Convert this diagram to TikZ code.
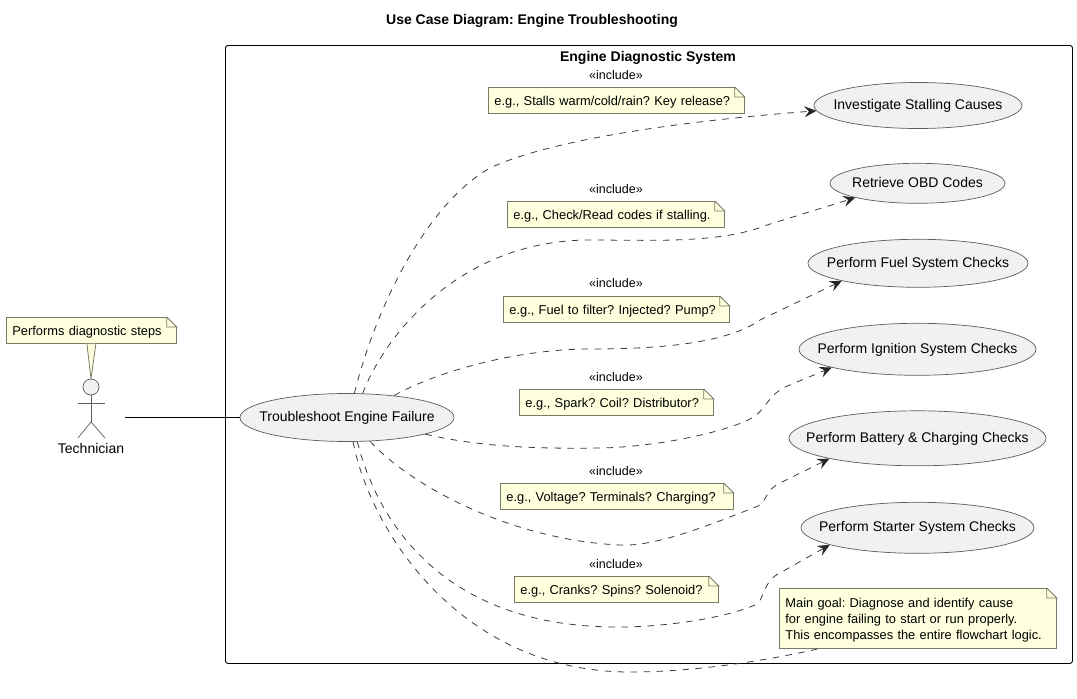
\documentclass[tikz,border=0pt]{standalone}
\usepackage{fontspec}
\setmainfont{Liberation Sans}
\usetikzlibrary{shapes.geometric,arrows.meta}
\frenchspacing
\definecolor{notefill}{HTML}{FEFFDD}
\definecolor{notegray}{HTML}{7A7A66}
\definecolor{casefill}{HTML}{F1F1F1}
\definecolor{linegray}{HTML}{3A3A3A}
\definecolor{casegray}{HTML}{5C5C5C}
\newcommand{\uctext}[1]{\raisebox{-4pt}[0pt][0pt]{\makebox[0pt]{#1}}}
\begin{document}
\begin{tikzpicture}[x=1pt, y=-1pt, font=\fontsize{14}{16}\selectfont,
  usecase/.style = {draw=casegray, line width=0.7pt, fill=casefill, ellipse, inner sep=0pt},
  notebox/.style = {draw=notegray, line width=0.8pt, fill=notefill, anchor=north west, align=left, inner xsep=6pt, inner ysep=0pt, minimum height=26pt, text depth=0pt, font=\fontsize{12.85}{16}\selectfont},
  incl/.style = {font=\fontsize{12.5}{14}\selectfont},
  dep/.style = {draw=linegray, line width=0.8pt, dash pattern=on 6.5pt off 6.5pt},
  deparrow/.style = {dep, -{Stealth[length=12pt, width=11pt, inset=4.5pt, color=black!85]}},
  limb/.style = {draw=casegray, line width=0.7pt}]
\useasboundingbox (0,0) rectangle (1077,699);
\node[font=\fontsize{14}{16}\selectfont\bfseries] (title) at (532,21) {Use Case Diagram: Engine Troubleshooting};
\node[draw, line width=0.9pt, rounded corners=2.5pt, anchor=north west, minimum width=847pt, minimum height=618pt] (sys) at (225,45) {};
\node[font=\fontsize{14}{16}\selectfont\bfseries] (systitle) at (648,58) {Engine Diagnostic System};
% use cases
\node[usecase, minimum width=208pt, minimum height=46pt] (inv) at (918,105.5) {\uctext{Investigate Stalling Causes}};
\node[usecase, minimum width=175pt, minimum height=40pt] (obd) at (917.5,183.3) {\uctext{Retrieve OBD Codes}};
\node[usecase, minimum width=220pt, minimum height=48pt] (fuel) at (918,263.3) {\uctext{Perform Fuel System Checks}};
\node[usecase, minimum width=237pt, minimum height=52pt] (ign) at (917.5,349.3) {\uctext{Perform Ignition System Checks}};
\node[usecase, minimum width=257pt, minimum height=55pt] (bat) at (917.5,438.3) {\uctext{Perform Battery \& Charging Checks}};
\node[usecase, minimum width=233pt, minimum height=51pt] (sta) at (917.5,527.8) {\uctext{Perform Starter System Checks}};
\node[usecase, minimum width=214pt, minimum height=48pt] (tef) at (347,417.5) {\uctext{Troubleshoot Engine Failure}};
% notes
\node[notebox, text width=244pt] (ninv) at (488,87) {e.g., Stalls warm/cold/rain? Key release?};
\node[notebox, text width=205pt] (nobd) at (507,201) {e.g., Check/Read codes if stalling.};
\node[notebox, text width=214pt] (nfuel) at (503,296) {e.g., Fuel to filter? Injected? Pump?};
\node[notebox, text width=182pt] (nign) at (519,389) {e.g., Spark? Coil? Distributor?};
\node[notebox, text width=221pt] (nbat) at (500,483) {e.g., Voltage? Terminals? Charging?};
\node[notebox, text width=192pt] (nsta) at (514,576) {e.g., Cranks? Spins? Solenoid?};
\node[notebox, text width=265pt, minimum height=60pt, text depth=, text height=13.5pt] (ngoal) at (779,588) {Main goal: Diagnose and identify cause\\for engine failing to start or run properly.\\This encompasses the entire flowchart logic.};
\node[notebox, text width=158pt] (nact) at (6,317) {Performs diagnostic steps};
\node[incl] (i1) at (616,75) {«include»};
\node[incl] (i2) at (616,189) {«include»};
\node[incl] (i3) at (616,283) {«include»};
\node[incl] (i4) at (616,377) {«include»};
\node[incl] (i5) at (616,471) {«include»};
\node[incl] (i6) at (616,564) {«include»};
\foreach \n in {ninv,nobd,nfuel,nign,nbat,nsta,ngoal,nact} {
  \fill[white] (\n.north east) ++(-10,0) -- ++(10,10) -- ++(0,-11) -- ++(-10,0) -- cycle;
  \draw[notegray, line width=0.8pt] (\n.north east) ++(-10,0) -- ++(0,10) -- ++(10,0) -- ++(-10,-10);
}
% actor
\node[draw=casegray, line width=0.7pt, fill=casefill, circle, inner sep=0pt, minimum size=16pt] (head) at (91,387) {};
\coordinate (hip) at (91,422);
\coordinate (tech) at (125,417.5);
\node (techlabel) at (91,448) {Technician};
\draw[limb] (head) -- (hip);
\draw[limb] (78,403) -- (105,403);
\draw[limb] (78,438) -- (hip) -- (105,438);
\fill[notefill] ([xshift=-4.5pt]nact.south) -- (head.north) -- ([xshift=4.5pt]nact.south) -- cycle;
\draw[notegray, line width=0.8pt] ([xshift=-4.5pt]nact.south) -- (head.north) -- ([xshift=4.5pt]nact.south);
% connectors
\draw[line width=0.9pt] (tech) -- (tef);
\draw[deparrow] (tef.73.7) .. controls (375,310) and (425,205) .. (490,168) .. controls (560,135) and (720,118) .. (inv.183);
\draw[deparrow] (tef.57.7) .. controls (385,335) and (460,240) .. (590,240) .. controls (650,240) and (720,244) .. (767,225) -- (obd.193.2);
\draw[deparrow] (tef.25.2) .. controls (440,370) and (520,349) .. (590,349) .. controls (650,349) and (725,345) .. (760,320) -- (fuel.193);
\draw[deparrow] (tef.-12.2) .. controls (480,447) and (540,449) .. (600,448) .. controls (660,447) and (735,430) .. (755,416) .. controls (765,409) and (770,394) .. (785,387) -- (ign.192.9);
\draw[deparrow] (tef.-46.9) .. controls (410,485) and (510,540) .. (620,545) .. controls (655,547) and (710,525) .. (758,506) .. controls (768,500) and (765,490) .. (780,483) -- (bat.193.8);
\draw[deparrow] (tef.-67.4) .. controls (380,530) and (450,628) .. (620,627) .. controls (665,627) and (725,618) .. (755,605) .. controls (765,600) and (762,583) .. (778,574) -- (sta.191.5);
\draw[dep] (tef.-76) .. controls (370,530) and (460,672) .. (630,672) .. controls (690,672) and (760,662) .. (ngoal.197);
\end{tikzpicture}
\end{document}
